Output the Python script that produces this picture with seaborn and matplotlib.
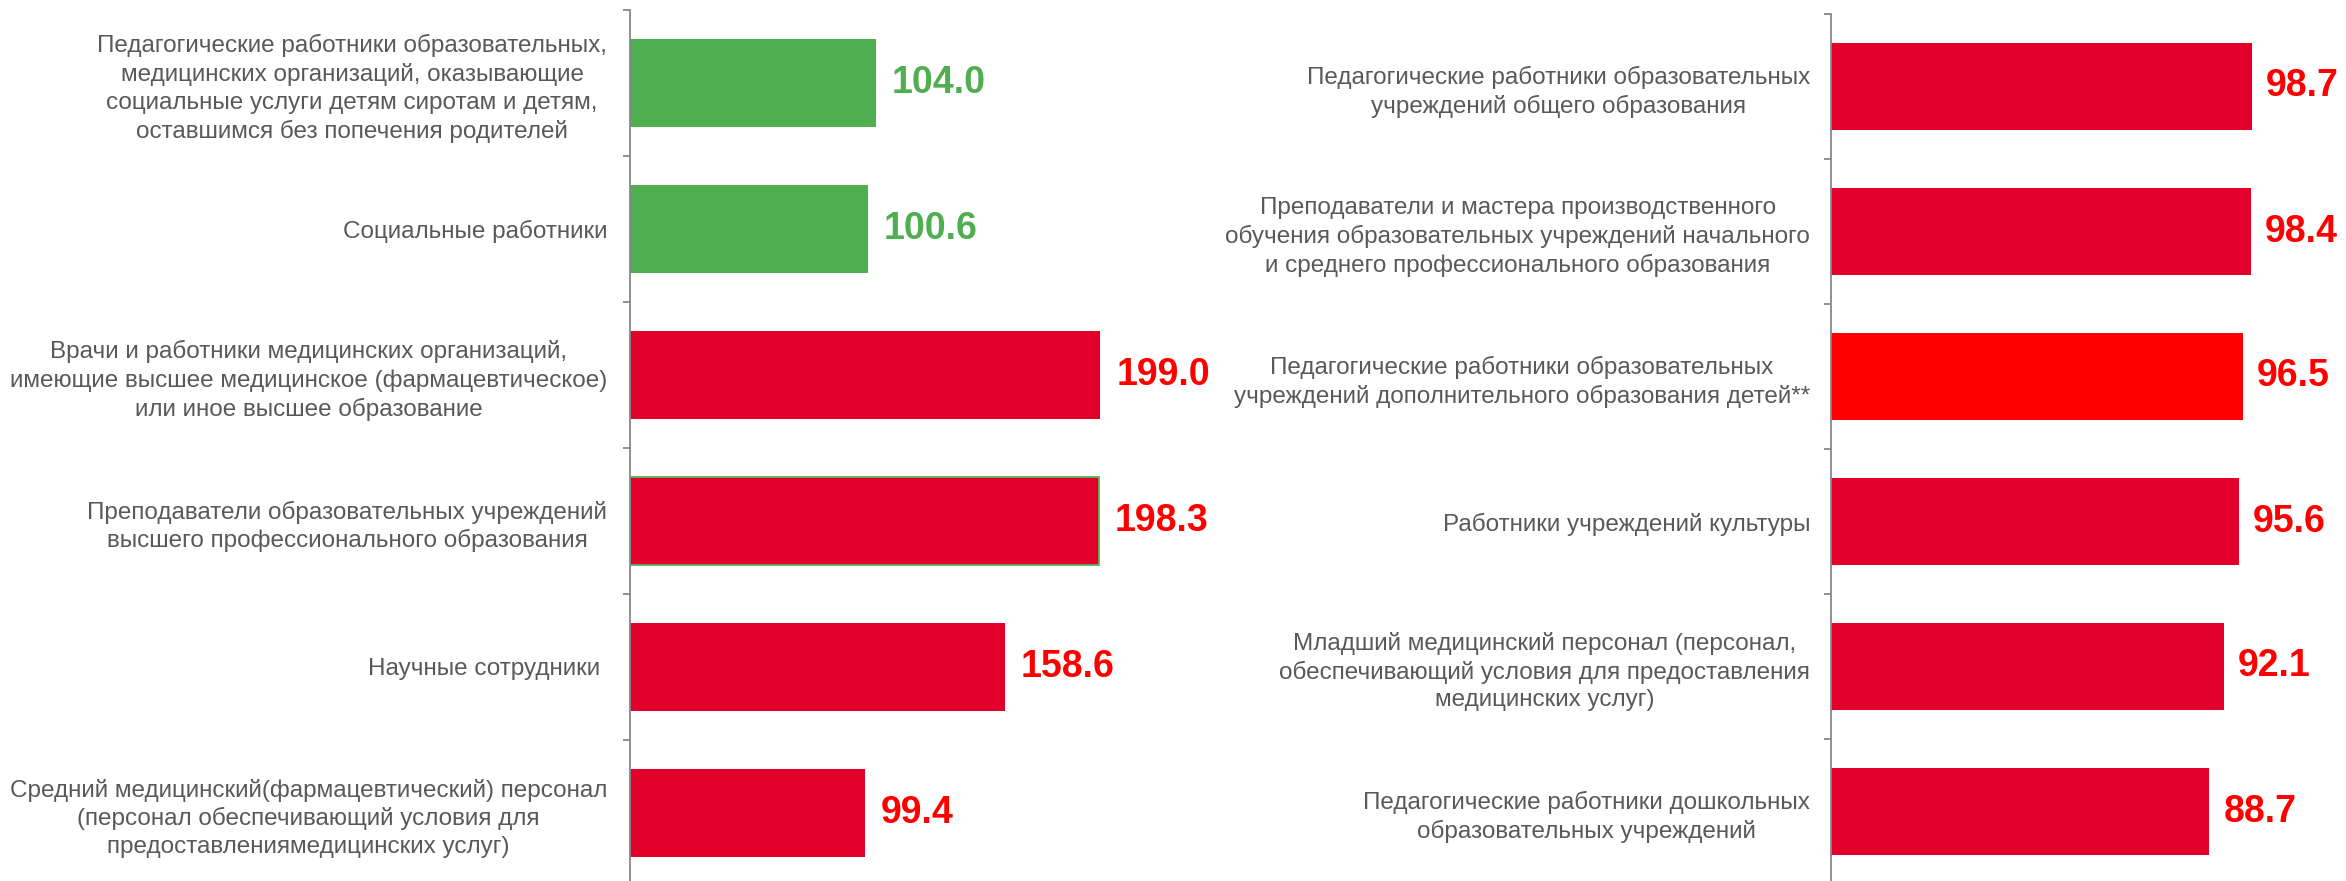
import matplotlib
matplotlib.use("Agg")
import matplotlib.pyplot as plt
import seaborn as sns
import numpy as np
import pandas as pd

left_labels = [
    "Педагогические работники образовательных,\nмедицинских организаций, оказывающие\nсоциальные услуги детям сиротам и детям,\nоставшимся без попечения родителей",
    "Социальные работники",
    "Врачи и работники медицинских организаций,\nимеющие высшее медицинское (фармацевтическое)\nили иное высшее образование",
    "Преподаватели образовательных учреждений\nвысшего профессионального образования",
    "Научные сотрудники ",
    "Средний медицинский(фармацевтический) персонал\n(персонал обеспечивающий условия для\nпредоставлениямедицинских услуг)",
]
left_values = [104.0, 100.6, 199.0, 198.3, 158.6, 99.4]

right_labels = [
    "Педагогические работники образовательных\nучреждений общего образования",
    "Преподаватели и мастера производственного\nобучения образовательных учреждений начального\nи среднего профессионального образования",
    "Педагогические работники образовательных\nучреждений дополнительного образования детей**",
    "Работники учреждений культуры",
    "Младший медицинский персонал (персонал,\nобеспечивающий условия для предоставления\nмедицинских услуг)",
    "Педагогические работники дошкольных\nобразовательных учреждений",
]
right_values = [98.7, 98.4, 96.5, 95.6, 92.1, 88.7]

GREEN = "#4FAE50"
CRIMSON = "#E2002B"
RED = "#FF0000"
left_bar_colors = [GREEN, GREEN, CRIMSON, CRIMSON, CRIMSON, CRIMSON]
left_text_colors = [GREEN, GREEN, RED, RED, RED, RED]
right_bar_colors = [CRIMSON, CRIMSON, RED, CRIMSON, CRIMSON, CRIMSON]
right_text_colors = [RED] * 6

sns.set_theme(style="white")
plt.rcParams["font.family"] = ["Liberation Sans", "DejaVu Sans"]

W, H = 2346, 881
fig = plt.figure(figsize=(W / 100, H / 100), dpi=100)

def px_ax(x0, x1, y_top, y_bot):
    return fig.add_axes([x0 / W, (H - y_bot) / H, (x1 - x0) / W, (y_bot - y_top) / H])

axL = px_ax(630, 1250, 10, 886)
axR = px_ax(1831, 2346, 14, 884)

def draw(ax, labels, values, bar_colors, text_colors, xmax, pad_label, pad_val):
    df = pd.DataFrame({"label": labels, "value": values})
    sns.barplot(data=df, x="value", y="label", hue="label", palette=bar_colors,
                legend=False, orient="h", width=0.6, ax=ax, saturation=1,
                linewidth=0)
    ax.set_xlim(0, xmax)
    ax.set_ylim(len(labels) - 0.5, -0.5)
    ax.set_xlabel("")
    ax.set_ylabel("")
    ax.set_xticks([])
    for s in ["top", "right", "bottom"]:
        ax.spines[s].set_visible(False)
    ax.spines["left"].set_color("#888888")
    ax.spines["left"].set_linewidth(1.3)
    ax.tick_params(axis="y", which="major", length=0, pad=pad_label,
                   labelsize=17.5, labelcolor="#595959")
    ax.set_yticks(np.arange(len(labels) + 1) - 0.5, minor=True)
    ax.tick_params(axis="y", which="minor", length=5, width=1.3, color="#888888",
                   left=True, direction="out")
    ax.yaxis.set_ticks_position("left")
    for t in ax.get_yticklabels():
        t.set_multialignment("center")
        t.set_linespacing(1.32)
    for i, (v, c) in enumerate(zip(values, text_colors)):
        ax.annotate(f"{v:.1f}", xy=(v, i), xytext=(pad_val, 0),
                    textcoords="offset points", ha="left", va="center",
                    fontsize=27, fontweight="bold", color=c)

draw(axL, left_labels, left_values, left_bar_colors, left_text_colors,
     620 / 2.364, 16.5, 11.5)
draw(axR, right_labels, right_values, right_bar_colors, right_text_colors,
     515 / 4.266, 15, 10)

# green outline on the 198.3 bar
for p in axL.patches:
    y = p.get_y() + p.get_height() / 2
    if abs(y - 3) < 0.01:
        p.set_edgecolor("#5DB35E")
        p.set_linewidth(1.3)

fig.savefig("out.png", dpi=100, facecolor="white")
